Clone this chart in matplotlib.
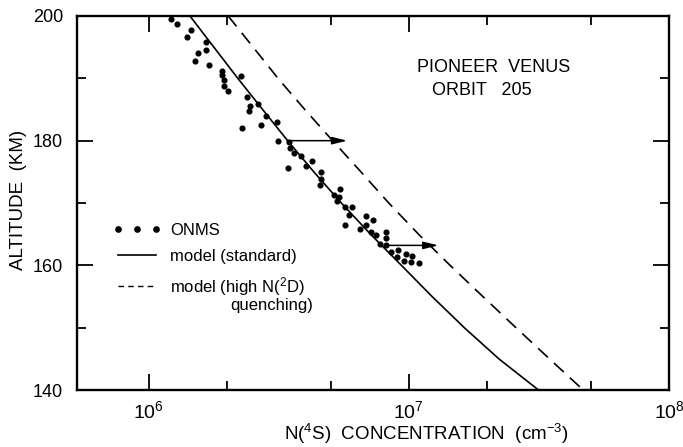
import math

import matplotlib
matplotlib.use("Agg")
import matplotlib.pyplot as plt
from matplotlib.lines import Line2D
from matplotlib.ticker import FixedLocator, FuncFormatter, NullFormatter, LogLocator

plt.rcParams['font.family'] = ['Liberation Sans', 'DejaVu Sans']
plt.rcParams['mathtext.fontset'] = 'custom'
plt.rcParams['mathtext.rm'] = 'Liberation Sans'
plt.rcParams['mathtext.it'] = 'Liberation Sans:italic'
plt.rcParams['mathtext.bf'] = 'Liberation Sans:bold'

# model curves (read every 5 km)
model_alt = [200, 195, 190, 185, 180, 175, 170, 165, 160, 155, 150, 145, 140]
model_std = [1.44e6, 1.78e6, 2.20e6, 2.74e6, 3.42e6, 4.31e6, 5.50e6,
             7.12e6, 9.36e6, 1.228e7, 1.633e7, 2.218e7, 3.15e7]
model_high = [2.02e6, 2.52e6, 3.14e6, 3.98e6, 5.09e6, 6.54e6, 8.37e6,
              1.089e7, 1.44e7, 1.924e7, 2.58e7, 3.47e7, 4.68e7]

# ONMS measurements
onms_alt = [199.5, 198.7, 196.7, 197.8, 192.8, 194.0, 195.9, 194.5, 192.1, 191.2,
            190.5, 189.7, 188.8, 188.0, 190.4, 187.0, 185.6, 185.9, 184.7, 184.0,
            182.5, 183.0, 182.1, 180.0, 179.8, 178.8, 178.1, 177.5, 176.7, 175.9,
            175.6, 174.9, 173.8, 172.9, 172.2, 171.3, 171.0, 170.4, 169.3, 169.3,
            168.1, 166.5, 167.9, 167.3, 166.5, 165.9, 165.4, 164.8, 165.4, 164.4,
            163.5, 163.2, 162.1, 162.4, 161.8, 161.5, 161.3, 160.7, 160.6, 160.4]
onms_n = [1.22e6, 1.29e6, 1.40e6, 1.45e6, 1.50e6, 1.55e6, 1.66e6, 1.66e6, 1.71e6, 1.91e6,
          1.92e6, 1.94e6, 1.95e6, 2.01e6, 2.27e6, 2.38e6, 2.46e6, 2.62e6, 2.42e6, 2.83e6,
          2.71e6, 3.10e6, 2.29e6, 3.14e6, 3.46e6, 3.50e6, 3.62e6, 3.84e6, 4.23e6, 4.01e6,
          3.43e6, 4.61e6, 4.58e6, 4.57e6, 5.42e6, 5.14e6, 5.37e6, 5.28e6, 5.69e6, 6.02e6,
          5.89e6, 5.68e6, 6.84e6, 7.28e6, 6.83e6, 6.50e6, 7.13e6, 7.45e6, 8.18e6, 8.18e6,
          7.72e6, 8.20e6, 8.55e6, 9.09e6, 9.75e6, 1.03e7, 9.03e6, 9.59e6, 1.02e7, 1.09e7]

# shift arrows (standard model -> high quenching)
arrow_alt = [180.0, 163.2]
arrow_from = [3.40e6, 8.2e6]
arrow_to = [5.8e6, 1.30e7]

x_lim = (5.3e5, 1e8)
y_lim = (140, 200)
y_major = [140, 160, 180, 200]
y_minor = [150, 170, 190]

fig = plt.figure(figsize=(6.83, 4.47), dpi=100)
ax = fig.add_axes([77 / 683, 1 - 390 / 447, 592 / 683, 374 / 447])

ax.plot(model_std, model_alt, color='black', lw=1.2)
ax.plot(model_high, model_alt, color='black', lw=1.2, dashes=(8, 5))
ax.plot(onms_n, onms_alt, ls='none', marker='o', ms=3.4, color='black')

for a, x0, x1 in zip(arrow_alt, arrow_from, arrow_to):
    ax.annotate('', xy=(x1, a), xytext=(x0, a),
                arrowprops=dict(arrowstyle='-|>,head_length=0.9,head_width=0.22',
                                mutation_scale=10, color='black', lw=1.1,
                                shrinkA=0, shrinkB=0))

ax.set_xscale('log')
ax.set_xlim(*x_lim)
ax.set_ylim(*y_lim)

ax.xaxis.set_major_locator(LogLocator(base=10, numticks=10))
ax.xaxis.set_minor_locator(LogLocator(base=10, subs=(2.0, 5.0), numticks=10))
ax.xaxis.set_major_formatter(FuncFormatter(
    lambda v, p: r'$10^{%d}$' % round(math.log10(v))))
ax.xaxis.set_minor_formatter(NullFormatter())
ax.yaxis.set_major_locator(FixedLocator(y_major))
ax.yaxis.set_minor_locator(FixedLocator(y_minor))

ax.tick_params(which='both', direction='in', top=True, right=True, width=1.3)
ax.tick_params(which='major', length=11.5)
ax.tick_params(which='minor', length=6.5)
ax.tick_params(axis='x', which='major', labelsize=14, pad=7)
ax.tick_params(axis='y', which='major', labelsize=13, pad=10)
for s in ax.spines.values():
    s.set_linewidth(1.7)

ax.set_xlabel(r'N($^{4}$S)  CONCENTRATION  (cm$^{-3}$)', fontsize=13.5)
ax.xaxis.set_label_coords(0.591, -0.084)
ax.set_ylabel('ALTITUDE  (KM)', fontsize=13.5)
ax.yaxis.set_label_coords(-0.084, 0.508)

ax.text(0.574, 0.863, 'PIONEER  VENUS', transform=ax.transAxes,
        fontsize=13, ha='left', va='center')
ax.text(0.599, 0.800, 'ORBIT   205', transform=ax.transAxes,
        fontsize=13, ha='left', va='center')

handles = [Line2D([], [], ls='none', marker='o', ms=3.8, color='black'),
           Line2D([], [], color='black', lw=1.2),
           Line2D([], [], color='black', lw=1.0, dashes=(4, 3))]
labels = ['ONMS', 'model (standard)', r'model (high N($^{2}$D)']
leg = ax.legend(handles, labels, loc='upper left', bbox_to_anchor=(0.061, 0.446),
                numpoints=3, fontsize=12, handlelength=2.9, handletextpad=0.5,
                labelspacing=0.65, frameon=False, borderpad=0, borderaxespad=0)
ax.text(0.399, 0.226, 'quenching)', transform=ax.transAxes,
        fontsize=12, ha='right', va='center')

fig.savefig('out.png', dpi=100)
